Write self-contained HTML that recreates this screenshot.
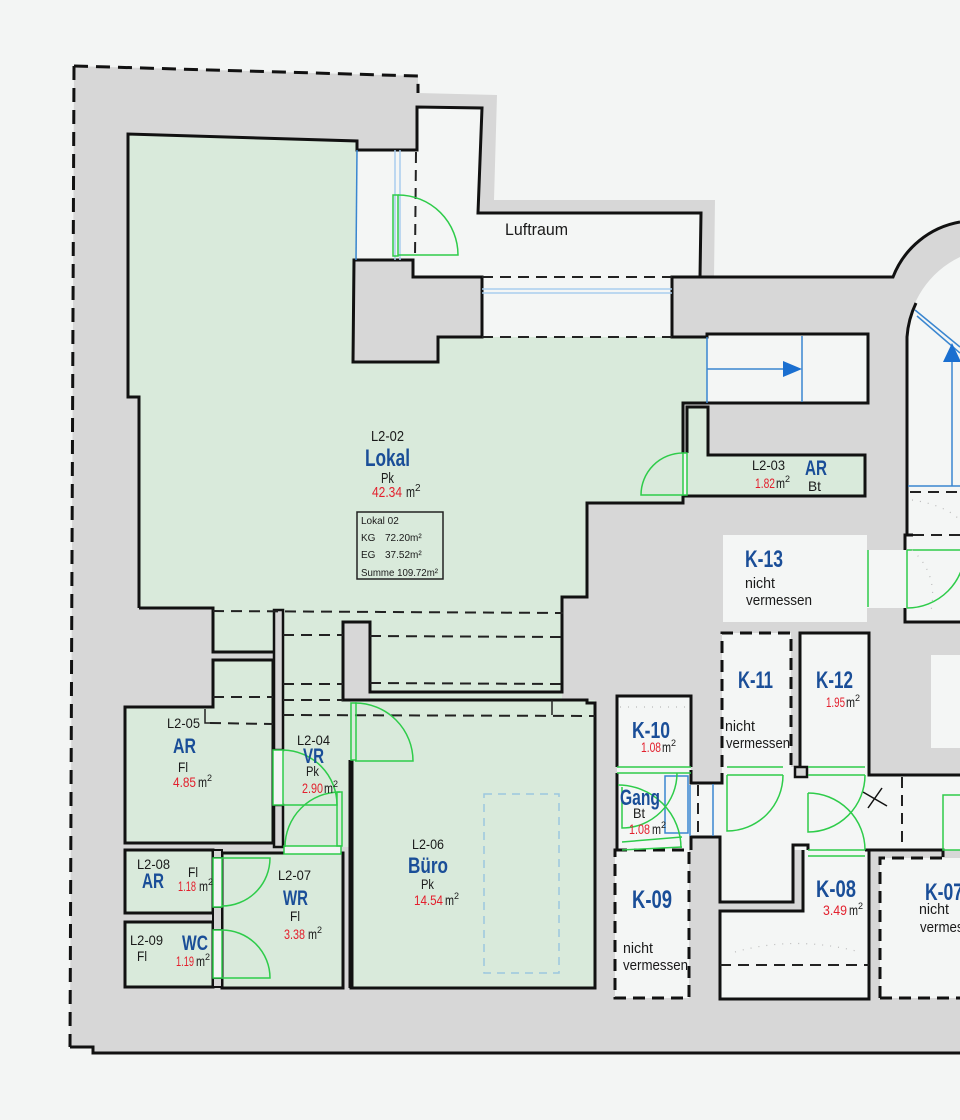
<!DOCTYPE html>
<html><head><meta charset="utf-8"><style>
html,body{margin:0;padding:0;background:#f3f5f4;}
svg{display:block;}
text{font-family:"Liberation Sans Narrow","Liberation Sans",sans-serif;fill:#1a1a1a;}
.b{font-weight:bold;fill:#1a4e98;}
.r{fill:#e3202d;}
.sm{font-family:"Liberation Sans",sans-serif;}
</style></head><body>
<svg width="960" height="1120" viewBox="0 0 960 1120" xmlns="http://www.w3.org/2000/svg">
<rect x="0" y="0" width="960" height="1120" fill="#f3f5f4"/>
<!-- building footprint -->
<path d="M74,66 L418,76 L418,93 L497,95 L494,200 L715,200 L714,277 L893,277 A88,88 0 0 1 960,222 L960,1053 L93,1053 L93,1047 L70,1047 Z" fill="#d7d7d7"/>

<!-- white areas -->
<polygon points="357,150 417,150 417,107 482,108 478,213 701,213 700,277 672,277 672,337 482,337 482,277 413,277 413,260 357,260" fill="#f4f6f5"/>
<rect x="707" y="334" width="161" height="69" fill="#f4f6f5"/>
<path d="M907,535 L907,337 A93,93 0 0 1 960,257 L960,535 Z" fill="#f4f6f5"/>
<rect x="905" y="535" width="55" height="87" fill="#f4f6f5"/>
<rect x="867" y="550" width="40" height="58" fill="#f4f6f5"/>
<rect x="723" y="535" width="144" height="87" fill="#f4f6f5"/>
<rect x="931" y="655" width="29" height="93" fill="#f4f6f5"/>
<rect x="617" y="696" width="74" height="71" fill="#f4f6f5"/>
<rect x="617" y="767" width="74" height="83" fill="#f4f6f5"/>
<rect x="691" y="783" width="31" height="54" fill="#f4f6f5"/>
<rect x="722" y="633" width="69" height="134" fill="#f4f6f5"/>
<rect x="800" y="633" width="69" height="134" fill="#f4f6f5"/>
<rect x="722" y="767" width="147" height="83" fill="#f4f6f5"/>
<rect x="720" y="837" width="73" height="65" fill="#f4f6f5"/>
<rect x="869" y="775" width="91" height="75" fill="#f4f6f5"/>
<rect x="615" y="850" width="74" height="148" fill="#f4f6f5"/>
<polygon points="720,911 803,911 803,850 869,850 869,999 720,999" fill="#f4f6f5"/>
<rect x="880" y="858" width="80" height="140" fill="#f4f6f5"/>

<!-- green areas -->
<polygon points="128,134 357,141 357,260 354,260 353,362 438,362 438,337 707,337 707,403 683,403 683,503 587,503 587,597 562,597 562,700 350,700 350,847 283,847 283,610 275,610 275,652 213,652 213,608 139,608 139,397 128,397" fill="#d9eadb"/>
<polygon points="687,407 708,407 708,455 865,455 865,496 683,496 683,453 687,453" fill="#d9eadb"/>
<polygon points="213,660 273,660 273,843 125,843 125,707 213,707" fill="#d9eadb"/>
<rect x="351" y="700" width="244" height="288" fill="#d9eadb"/>
<rect x="222" y="853" width="121" height="135" fill="#d9eadb"/>
<rect x="125" y="850" width="88" height="63" fill="#d9eadb"/>
<rect x="125" y="922" width="88" height="65" fill="#d9eadb"/>

<!-- gray blocks -->
<polygon points="354,260 413,260 413,277 482,277 482,337 438,337 438,362 353,362" fill="#d7d7d7" stroke="#111" stroke-width="3" stroke-linejoin="miter"/>
<rect x="343" y="622" width="27" height="78" fill="#d7d7d7"/>
<rect x="274" y="610" width="9" height="140" fill="#d7d7d7" stroke="#111" stroke-width="2.5"/>
<rect x="274" y="805" width="9" height="42" fill="#d7d7d7" stroke="#111" stroke-width="2.5"/>

<!-- outer lines -->
<g fill="none" stroke="#111" stroke-width="3">
<path d="M74,66 L418,76 L418,93" stroke-dasharray="14 8"/>
<path d="M74,66 L70,1047" stroke-dasharray="14 8"/>
<path d="M70,1047 L93,1047 L93,1053 L960,1053"/>
<path d="M700,277 L893,277 A88,88 0 0 1 960,222"/>
<path d="M907,535 L907,337 A93,93 0 0 1 916,303"/>
</g>

<!-- black walls -->
<g fill="none" stroke="#111" stroke-width="3" stroke-linejoin="miter">
<polyline points="139,608 139,397 128,397 128,134 357,141 357,150 417,150 417,107 482,108 478,213 701,213 700,277 672,277 672,337 707,337 707,334 868,334 868,403 683,403 683,453"/>
<polyline points="687,453 687,407 708,407 708,455 865,455 865,496 683,496 683,503 587,503 587,597 562,597 562,692 370,692 370,622 343,622 343,700 587,700 587,703 595,703 595,988 351,988 351,760"/>
<polyline points="139,608 213,608 213,652 275,652"/>
<polygon points="213,660 273,660 273,843 125,843 125,707 213,707"/>
<rect x="222" y="853" width="121" height="135"/>
<rect x="125" y="850" width="88" height="63"/>
<rect x="125" y="922" width="88" height="65"/>
<!-- K area -->
<polyline points="617,767 617,696 691,696 691,767"/>
<polyline points="617,773 617,850"/>
<polyline points="691,770 691,783 722,783 722,773"/>
<polyline points="691,850 691,837 720,837 720,902 793,902 793,845 808,845 808,850"/>
<polyline points="800,767 800,633 869,633 869,767"/>
<polyline points="869,767 869,775 960,775"/>
<polyline points="865,850 943,850 943,857"/>
<polyline points="803,850 803,911 720,911 720,999 869,999 869,850"/>
<polyline points="905,550 905,535 913,535"/>
<polyline points="905,608 905,622 960,622"/>
</g>
<rect x="795" y="767" width="12" height="10" fill="#d7d7d7" stroke="#111" stroke-width="2.5"/>
<rect x="213" y="850" width="9" height="8" fill="#d7d7d7" stroke="#111" stroke-width="2"/>
<rect x="213" y="907" width="9" height="23" fill="#d7d7d7" stroke="#111" stroke-width="2"/>
<rect x="213" y="978" width="9" height="9" fill="#d7d7d7" stroke="#111" stroke-width="2"/>
<line x1="351" y1="760" x2="351" y2="988" stroke="#111" stroke-width="5"/>

<!-- dashed K rooms -->
<g fill="none" stroke="#111" stroke-width="3" stroke-dasharray="12 7">
<path d="M722,767 V633 H791 V767"/>
<rect x="615" y="850" width="74" height="148"/>
<path d="M880,998 V858 H943 M880,998 H960"/>
</g>

<!-- inner dashed lines -->
<g fill="none" stroke="#222" stroke-width="2" stroke-dasharray="11 7">
<line x1="482" y1="277" x2="672" y2="277"/>
<line x1="482" y1="337" x2="672" y2="337"/>
<line x1="416" y1="152" x2="415" y2="258"/>
<line x1="213" y1="611" x2="563" y2="613"/>
<line x1="283" y1="635" x2="343" y2="635"/>
<line x1="370" y1="636" x2="562" y2="637"/>
<line x1="283" y1="684" x2="343" y2="684"/>
<line x1="370" y1="683" x2="562" y2="684"/>
<line x1="283" y1="700" x2="343" y2="700"/>
<line x1="213" y1="697" x2="273" y2="697"/>
<line x1="210" y1="723" x2="273" y2="724"/>
<line x1="283" y1="715" x2="595" y2="716"/>
<line x1="913" y1="535" x2="960" y2="535"/>
<line x1="910" y1="492" x2="960" y2="492"/>
<line x1="902" y1="777" x2="902" y2="848"/>
<line x1="720" y1="965" x2="869" y2="965"/>
<line x1="698" y1="785" x2="698" y2="836"/>
</g>
<polyline points="205,709 205,723 212,723" fill="none" stroke="#222" stroke-width="1.5"/>
<line x1="552" y1="700" x2="552" y2="715" stroke="#222" stroke-width="1.5"/>
<g stroke="#111" stroke-width="1.5">
<line x1="863" y1="792" x2="887" y2="806"/>
<line x1="882" y1="788" x2="868" y2="808"/>
</g>

<!-- blue lines -->
<g fill="none" stroke="#3a86d0" stroke-width="1.5">
<line x1="357" y1="150" x2="356" y2="260"/>
<line x1="707" y1="337" x2="707" y2="403"/>
<line x1="802" y1="336" x2="802" y2="402"/>
<line x1="707" y1="369" x2="785" y2="369"/>
<line x1="952" y1="486" x2="952" y2="360"/>
<line x1="908" y1="486" x2="960" y2="486"/>
<line x1="915" y1="310" x2="960" y2="347"/>
<line x1="917" y1="316" x2="960" y2="353"/>
<rect x="665" y="776" width="23" height="57"/>
<line x1="713" y1="784" x2="713" y2="836"/>
<line x1="690" y1="785" x2="690" y2="836"/>
</g>
<g fill="none" stroke="#a9cdee" stroke-width="1.5">
<line x1="395" y1="150" x2="395" y2="260"/>
<line x1="400" y1="150" x2="400" y2="260"/>
<line x1="482" y1="289" x2="672" y2="289"/>
<line x1="482" y1="293" x2="672" y2="293"/>
</g>
<polygon points="783,361 802,369 783,377" fill="#1a6fd0"/>
<polygon points="943,362 952,343 961,362" fill="#1a6fd0"/>
<rect x="484" y="794" width="75" height="179" fill="none" stroke="#9cc8e0" stroke-width="1.5" stroke-dasharray="8 6"/>

<!-- door frames -->
<g fill="#f4f6f5" stroke="#2ecc4a" stroke-width="1.5">
<rect x="273" y="750" width="10" height="55"/>
<rect x="284" y="846" width="57" height="8"/>
<rect x="213" y="858" width="9" height="49"/>
<rect x="213" y="930" width="9" height="48"/>
<rect x="683" y="453" width="4" height="42"/>
</g>
<!-- door leaves & arcs -->
<g fill="none" stroke="#2ecc4a" stroke-width="1.5">
<rect x="393" y="195" width="5" height="61"/>
<path d="M398,195 A60,60 0 0 1 458,255 L398,255"/>
<path d="M683,453 A42,42 0 0 0 641,495 L683,495"/>
<path d="M283,805 L337,805 A55,55 0 0 0 283,750"/>
<rect x="337" y="792" width="5" height="54"/>
<path d="M285,847 A55,55 0 0 1 340,792"/>
<rect x="351" y="703" width="5" height="57"/>
<path d="M355,703 A58,58 0 0 1 413,761 L355,761"/>
<path d="M222,858 L270,858 A48,48 0 0 1 222,906"/>
<path d="M222,978 L270,978 A48,48 0 0 0 222,930"/>
<!-- K area -->
<line x1="617" y1="767" x2="691" y2="767"/>
<line x1="617" y1="773" x2="691" y2="773"/>
<path d="M677,773 A55,55 0 0 1 622,828 L622,787"/>
<path d="M618,785 A63,63 0 0 1 681,848"/>
<line x1="622" y1="842" x2="682" y2="837"/>
<line x1="622" y1="850" x2="682" y2="847"/>
<line x1="727" y1="767" x2="783" y2="767"/>
<line x1="727" y1="775" x2="783" y2="775"/>
<path d="M783,775 A56,56 0 0 1 727,831 L727,775"/>
<line x1="808" y1="767" x2="865" y2="767"/>
<line x1="808" y1="775" x2="865" y2="775"/>
<path d="M865,775 A57,57 0 0 1 808,832 L808,793"/>
<path d="M808,793 A57,57 0 0 1 865,850"/>
<line x1="808" y1="850" x2="865" y2="850"/>
<line x1="808" y1="856" x2="865" y2="856"/>
<path d="M960,795 L943,795 L943,850 L960,850"/>
<line x1="868" y1="550" x2="868" y2="607"/>
<line x1="907" y1="550" x2="960" y2="550"/>
<line x1="907" y1="550" x2="907" y2="608"/>
<path d="M965,550 A58,58 0 0 1 907,608"/>
</g>

<!-- dotted hints -->
<g fill="none" stroke="#bbb" stroke-width="1.2" stroke-dasharray="1 7">
<path d="M912,500 Q945,505 960,520"/>
<path d="M912,550 Q940,575 930,615"/>
<path d="M735,952 Q795,935 860,952"/>
<path d="M620,707 H690"/>
</g>

<!-- texts -->
<text x="505" y="235" font-size="17" textLength="63" lengthAdjust="spacingAndGlyphs" class="sm">Luftraum</text>

<text x="371" y="441" font-size="15" textLength="33" lengthAdjust="spacingAndGlyphs">L2-02</text>
<text x="365" y="466" font-size="24" class="b" textLength="45" lengthAdjust="spacingAndGlyphs">Lokal</text>
<text x="381" y="483" font-size="15" textLength="13" lengthAdjust="spacingAndGlyphs">Pk</text>
<text x="372" y="497" font-size="15" class="r" textLength="30" lengthAdjust="spacingAndGlyphs">42.34</text>
<text x="406" y="497" font-size="15" textLength="9" lengthAdjust="spacingAndGlyphs">m</text>
<text x="415" y="491" font-size="10">2</text>

<rect x="357" y="512" width="86" height="67" fill="none" stroke="#222" stroke-width="1.5"/>
<g class="sm" font-size="10">
<text x="361" y="524" class="sm">Lokal 02</text>
<text x="361" y="541" class="sm">KG</text>
<text x="385" y="541" class="sm">72.20m²</text>
<text x="361" y="558" class="sm">EG</text>
<text x="385" y="558" class="sm">37.52m²</text>
<text x="361" y="576" class="sm" textLength="77" lengthAdjust="spacingAndGlyphs">Summe 109.72m²</text>
</g>

<text x="752" y="470" font-size="14" textLength="33" lengthAdjust="spacingAndGlyphs">L2-03</text>
<text x="805" y="475" font-size="21" class="b" textLength="22" lengthAdjust="spacingAndGlyphs">AR</text>
<text x="755" y="488" font-size="14" class="r" textLength="20" lengthAdjust="spacingAndGlyphs">1.82</text>
<text x="776" y="488" font-size="14" textLength="9" lengthAdjust="spacingAndGlyphs">m</text>
<text x="785" y="482" font-size="9">2</text>
<text x="808" y="491" font-size="14" textLength="13" lengthAdjust="spacingAndGlyphs">Bt</text>

<text x="745" y="567" font-size="24" class="b" textLength="38" lengthAdjust="spacingAndGlyphs">K-13</text>
<text x="745" y="588" font-size="15" textLength="30" lengthAdjust="spacingAndGlyphs" class="sm">nicht</text>
<text x="746" y="605" font-size="15" textLength="66" lengthAdjust="spacingAndGlyphs" class="sm">vermessen</text>

<text x="167" y="728" font-size="14" textLength="33" lengthAdjust="spacingAndGlyphs">L2-05</text>
<text x="173" y="753" font-size="21" class="b" textLength="23" lengthAdjust="spacingAndGlyphs">AR</text>
<text x="178" y="772" font-size="14" textLength="10" lengthAdjust="spacingAndGlyphs">Fl</text>
<text x="173" y="787" font-size="14" class="r" textLength="23" lengthAdjust="spacingAndGlyphs">4.85</text>
<text x="198" y="787" font-size="14" textLength="9" lengthAdjust="spacingAndGlyphs">m</text>
<text x="207" y="781" font-size="9">2</text>

<text x="297" y="745" font-size="14" textLength="33" lengthAdjust="spacingAndGlyphs">L2-04</text>
<text x="303" y="763" font-size="21" class="b" textLength="21" lengthAdjust="spacingAndGlyphs">VR</text>
<text x="306" y="776" font-size="14" textLength="13" lengthAdjust="spacingAndGlyphs">Pk</text>
<text x="302" y="793" font-size="14" class="r" textLength="21" lengthAdjust="spacingAndGlyphs">2.90</text>
<text x="324" y="793" font-size="14" textLength="9" lengthAdjust="spacingAndGlyphs">m</text>
<text x="333" y="787" font-size="9">2</text>

<text x="412" y="849" font-size="14" textLength="32" lengthAdjust="spacingAndGlyphs">L2-06</text>
<text x="408" y="873" font-size="22" class="b" textLength="40" lengthAdjust="spacingAndGlyphs">Büro</text>
<text x="421" y="889" font-size="14" textLength="13" lengthAdjust="spacingAndGlyphs">Pk</text>
<text x="414" y="905" font-size="14" class="r" textLength="29" lengthAdjust="spacingAndGlyphs">14.54</text>
<text x="445" y="905" font-size="14" textLength="9" lengthAdjust="spacingAndGlyphs">m</text>
<text x="454" y="899" font-size="9">2</text>

<text x="278" y="880" font-size="14" textLength="33" lengthAdjust="spacingAndGlyphs">L2-07</text>
<text x="283" y="905" font-size="21" class="b" textLength="25" lengthAdjust="spacingAndGlyphs">WR</text>
<text x="290" y="921" font-size="14" textLength="10" lengthAdjust="spacingAndGlyphs">Fl</text>
<text x="284" y="939" font-size="14" class="r" textLength="21" lengthAdjust="spacingAndGlyphs">3.38</text>
<text x="308" y="939" font-size="14" textLength="9" lengthAdjust="spacingAndGlyphs">m</text>
<text x="317" y="933" font-size="9">2</text>

<text x="137" y="869" font-size="14" textLength="33" lengthAdjust="spacingAndGlyphs">L2-08</text>
<text x="142" y="888" font-size="21" class="b" textLength="22" lengthAdjust="spacingAndGlyphs">AR</text>
<text x="188" y="877" font-size="14" textLength="10" lengthAdjust="spacingAndGlyphs">Fl</text>
<text x="178" y="891" font-size="14" class="r" textLength="18" lengthAdjust="spacingAndGlyphs">1.18</text>
<text x="199" y="891" font-size="14" textLength="9" lengthAdjust="spacingAndGlyphs">m</text>
<text x="208" y="885" font-size="9">2</text>

<text x="130" y="945" font-size="14" textLength="33" lengthAdjust="spacingAndGlyphs">L2-09</text>
<text x="137" y="961" font-size="14" textLength="10" lengthAdjust="spacingAndGlyphs">Fl</text>
<text x="182" y="950" font-size="21" class="b" textLength="26" lengthAdjust="spacingAndGlyphs">WC</text>
<text x="176" y="966" font-size="14" class="r" textLength="18" lengthAdjust="spacingAndGlyphs">1.19</text>
<text x="196" y="966" font-size="14" textLength="9" lengthAdjust="spacingAndGlyphs">m</text>
<text x="205" y="960" font-size="9">2</text>

<text x="632" y="738" font-size="23" class="b" textLength="38" lengthAdjust="spacingAndGlyphs">K-10</text>
<text x="641" y="752" font-size="14" class="r" textLength="20" lengthAdjust="spacingAndGlyphs">1.08</text>
<text x="662" y="752" font-size="14" textLength="9" lengthAdjust="spacingAndGlyphs">m</text>
<text x="671" y="746" font-size="9">2</text>

<text x="620" y="805" font-size="22" class="b" textLength="40" lengthAdjust="spacingAndGlyphs">Gang</text>
<text x="633" y="818" font-size="14" textLength="12" lengthAdjust="spacingAndGlyphs">Bt</text>
<text x="629" y="834" font-size="14" class="r" textLength="21" lengthAdjust="spacingAndGlyphs">1.08</text>
<text x="652" y="834" font-size="14" textLength="9" lengthAdjust="spacingAndGlyphs">m</text>
<text x="661" y="828" font-size="9">2</text>

<text x="632" y="908" font-size="25" class="b" textLength="40" lengthAdjust="spacingAndGlyphs">K-09</text>
<text x="623" y="953" font-size="15" textLength="30" lengthAdjust="spacingAndGlyphs" class="sm">nicht</text>
<text x="623" y="970" font-size="15" textLength="65" lengthAdjust="spacingAndGlyphs" class="sm">vermessen</text>

<text x="738" y="688" font-size="24" class="b" textLength="35" lengthAdjust="spacingAndGlyphs">K-11</text>
<text x="725" y="731" font-size="15" textLength="30" lengthAdjust="spacingAndGlyphs" class="sm">nicht</text>
<text x="726" y="748" font-size="15" textLength="64" lengthAdjust="spacingAndGlyphs" class="sm">vermessen</text>

<text x="816" y="688" font-size="24" class="b" textLength="37" lengthAdjust="spacingAndGlyphs">K-12</text>
<text x="826" y="707" font-size="14" class="r" textLength="19" lengthAdjust="spacingAndGlyphs">1.95</text>
<text x="846" y="707" font-size="14" textLength="9" lengthAdjust="spacingAndGlyphs">m</text>
<text x="855" y="701" font-size="9">2</text>

<text x="816" y="897" font-size="24" class="b" textLength="40" lengthAdjust="spacingAndGlyphs">K-08</text>
<text x="823" y="915" font-size="14" class="r" textLength="24" lengthAdjust="spacingAndGlyphs">3.49</text>
<text x="849" y="915" font-size="14" textLength="9" lengthAdjust="spacingAndGlyphs">m</text>
<text x="858" y="909" font-size="9">2</text>

<text x="925" y="900" font-size="24" class="b" textLength="38" lengthAdjust="spacingAndGlyphs">K-07</text>
<text x="919" y="914" font-size="15" textLength="30" lengthAdjust="spacingAndGlyphs" class="sm">nicht</text>
<text x="920" y="932" font-size="15" textLength="65" lengthAdjust="spacingAndGlyphs" class="sm">vermessen</text>
</svg>
</body></html>
